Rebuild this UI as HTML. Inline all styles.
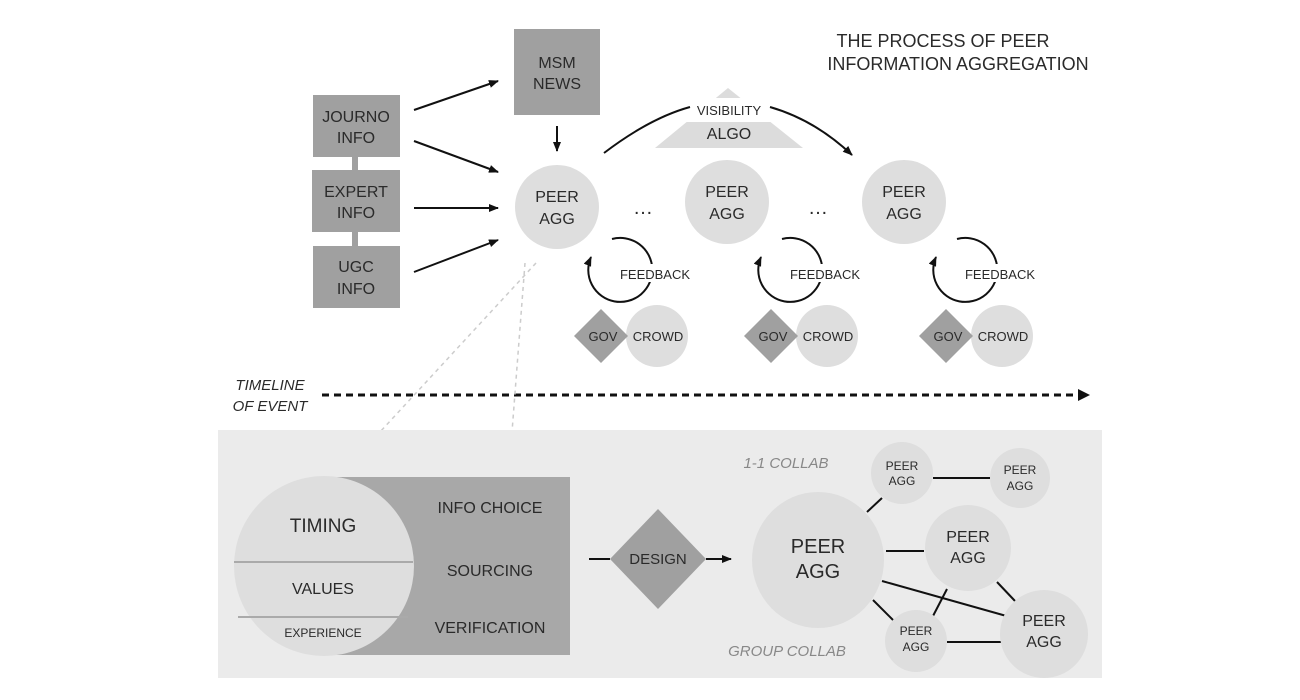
<!DOCTYPE html>
<html><head><meta charset="utf-8"><style>
html,body{margin:0;padding:0;background:#fff;width:1300px;height:700px;overflow:hidden}
svg{display:block}
text{font-family:"Liberation Sans",sans-serif;fill:#2a2a2a;text-anchor:middle}
</style></head><body>
<svg width="1300" height="700" viewBox="0 0 1300 700" xmlns="http://www.w3.org/2000/svg">
<defs>
<marker id="ah" markerWidth="10" markerHeight="8" refX="9" refY="4" orient="auto" markerUnits="userSpaceOnUse"><path d="M0,0 L10,4 L0,8 Z" fill="#111"/></marker>
</defs>
<text x="943" y="47" font-size="18">THE PROCESS OF PEER</text>
<text x="958" y="70" font-size="18">INFORMATION AGGREGATION</text>
<rect x="352" y="150" width="6" height="100" fill="#a0a0a0"/>
<rect x="313" y="95" width="87" height="62" fill="#a0a0a0"/>
<rect x="312" y="170" width="88" height="62" fill="#a0a0a0"/>
<rect x="313" y="246" width="87" height="62" fill="#a0a0a0"/>
<text x="356" y="122" font-size="16">JOURNO</text><text x="356" y="143" font-size="16">INFO</text>
<text x="356" y="197" font-size="16">EXPERT</text><text x="356" y="218" font-size="16">INFO</text>
<text x="356" y="272" font-size="16">UGC</text><text x="356" y="294" font-size="16">INFO</text>
<rect x="514" y="29" width="86" height="86" fill="#a0a0a0"/>
<text x="557" y="68" font-size="16">MSM</text><text x="557" y="89" font-size="16">NEWS</text>
<g stroke="#111" stroke-width="2" marker-end="url(#ah)">
<line x1="414" y1="110" x2="498" y2="81"/>
<line x1="414" y1="141" x2="498" y2="172"/>
<line x1="414" y1="208" x2="498" y2="208"/>
<line x1="414" y1="272" x2="498" y2="240"/>
<line x1="557" y1="126" x2="557" y2="151"/>
</g>
<polygon points="728,88 803,148 655,148" fill="#dcdcdc"/>
<rect x="680" y="98" width="100" height="24" fill="#fff"/>
<text x="729" y="115" font-size="13">VISIBILITY</text>
<text x="729" y="139" font-size="16">ALGO</text>
<path d="M604,153 Q650,118 690,107" fill="none" stroke="#111" stroke-width="2"/>
<path d="M770,107 Q815,120 852,155" fill="none" stroke="#111" stroke-width="2" marker-end="url(#ah)"/>
<g fill="#dedede"><circle cx="557" cy="207" r="42"/><circle cx="727" cy="202" r="42"/><circle cx="904" cy="202" r="42"/></g>
<text x="557" y="202" font-size="16">PEER</text><text x="557" y="224" font-size="16">AGG</text>
<text x="727" y="197" font-size="16">PEER</text><text x="727" y="219" font-size="16">AGG</text>
<text x="904" y="197" font-size="16">PEER</text><text x="904" y="219" font-size="16">AGG</text>
<text x="643" y="214" font-size="20">…</text><text x="818" y="214" font-size="20">…</text>
<g id="fb">
<path d="M612,239 A32,32 0 1,1 591,257" fill="none" stroke="#111" stroke-width="2" marker-end="url(#ah)"/>
<rect x="620" y="264" width="72" height="18" fill="#fff"/>
<text x="655" y="279" font-size="13">FEEDBACK</text>
<circle cx="657" cy="336" r="31" fill="#dedede"/>
<polygon points="601,309 628,336 601,363 574,336" fill="#a0a0a0"/>
<text x="603" y="341" font-size="13">GOV</text>
<text x="658" y="341" font-size="13">CROWD</text>
</g>
<use href="#fb" transform="translate(170,0)"/>
<use href="#fb" transform="translate(345,0)"/>
<text x="270" y="390" font-size="15" font-style="italic">TIMELINE</text>
<text x="270" y="411" font-size="15" font-style="italic">OF EVENT</text>
<line x1="322" y1="395" x2="1080" y2="395" stroke="#111" stroke-width="3" stroke-dasharray="7,5"/>
<polygon points="1078,389 1090,395 1078,401" fill="#111"/>
<g stroke="#ccc" stroke-width="1.5" stroke-dasharray="4,4">
<line x1="536" y1="263" x2="380" y2="432"/><line x1="525" y1="263" x2="512" y2="432"/>
</g>
<rect x="218" y="430" width="884" height="248" fill="#ebebeb"/>
<rect x="324" y="477" width="246" height="178" fill="#a8a8a8"/>
<circle cx="324" cy="566" r="90" fill="#dedede"/>
<line x1="234" y1="562" x2="413" y2="562" stroke="#aaa" stroke-width="2"/>
<line x1="238" y1="617" x2="408" y2="617" stroke="#aaa" stroke-width="2"/>
<text x="323" y="532" font-size="19">TIMING</text>
<text x="323" y="594" font-size="16">VALUES</text>
<text x="323" y="637" font-size="12">EXPERIENCE</text>
<text x="490" y="513" font-size="16">INFO CHOICE</text>
<text x="490" y="576" font-size="16">SOURCING</text>
<text x="490" y="633" font-size="16">VERIFICATION</text>
<polygon points="658,509 706,559 658,609 610,559" fill="#a0a0a0"/>
<text x="658" y="564" font-size="15">DESIGN</text>
<line x1="589" y1="559" x2="610" y2="559" stroke="#111" stroke-width="2"/>
<line x1="706" y1="559" x2="731" y2="559" stroke="#111" stroke-width="2" marker-end="url(#ah)"/>
<g stroke="#111" stroke-width="2">
<line x1="867" y1="512" x2="882" y2="498"/>
<line x1="933" y1="478" x2="990" y2="478"/>
<line x1="886" y1="551" x2="924" y2="551"/>
<line x1="882" y1="581" x2="1010" y2="617"/>
<line x1="873" y1="600" x2="893" y2="620"/>
<line x1="947" y1="589" x2="933" y2="616"/>
<line x1="997" y1="582" x2="1015" y2="601"/>
<line x1="947" y1="642" x2="1001" y2="642"/>
</g>
<g fill="#dedede">
<ellipse cx="818" cy="560" rx="66" ry="68"/>
<circle cx="902" cy="473" r="31"/><circle cx="1020" cy="478" r="30"/>
<circle cx="968" cy="548" r="43"/><circle cx="916" cy="641" r="31"/><circle cx="1044" cy="634" r="44"/>
</g>
<text x="818" y="553" font-size="20">PEER</text><text x="818" y="578" font-size="20">AGG</text>
<text x="902" y="470" font-size="12">PEER</text><text x="902" y="485" font-size="12">AGG</text>
<text x="1020" y="474" font-size="12">PEER</text><text x="1020" y="490" font-size="12">AGG</text>
<text x="968" y="542" font-size="16">PEER</text><text x="968" y="563" font-size="16">AGG</text>
<text x="916" y="635" font-size="12">PEER</text><text x="916" y="651" font-size="12">AGG</text>
<text x="1044" y="626" font-size="16">PEER</text><text x="1044" y="647" font-size="16">AGG</text>
<text x="786" y="468" font-size="15" font-style="italic" style="fill:#888">1-1 COLLAB</text>
<text x="787" y="656" font-size="15" font-style="italic" style="fill:#888">GROUP COLLAB</text>
</svg>
</body></html>
